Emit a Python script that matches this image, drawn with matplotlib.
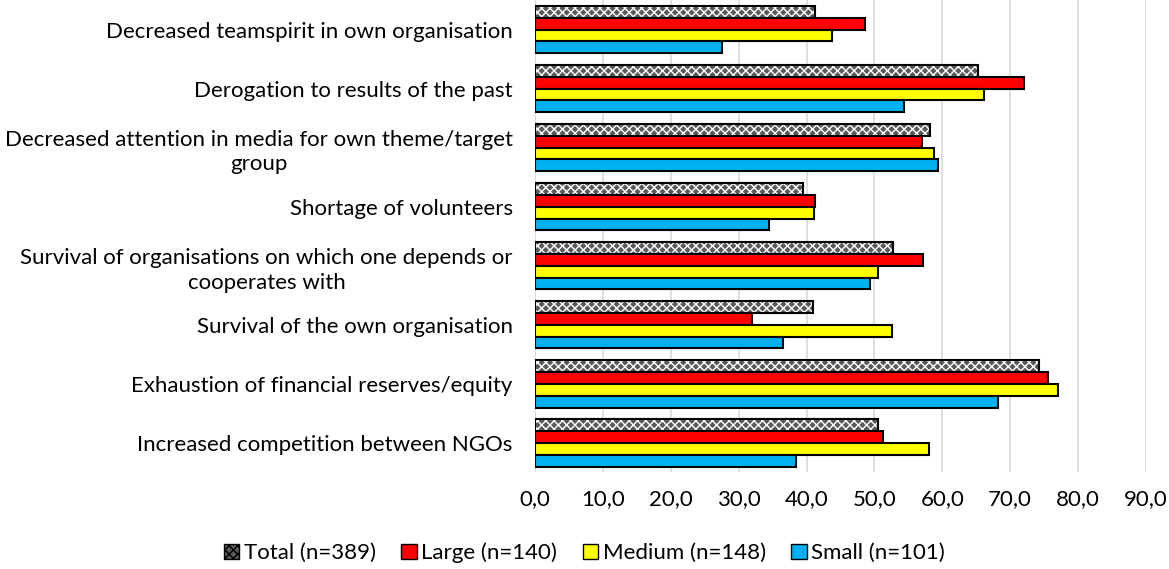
import numpy as np
import matplotlib.pyplot as plt
from matplotlib.patches import Patch

# Categorias (de arriba a abajo)
categorias = [
    "Decreased teamspirit in own organisation",
    "Derogation to results of the past",
    "Decreased attention in media for own theme/target\ngroup",
    "Shortage of volunteers",
    "Survival of organisations on which one depends or\ncooperates with",
    "Survival of the own organisation",
    "Exhaustion of financial reserves/equity",
    "Increased competition between NGOs",
]

total = [41.2, 65.2, 58.2, 39.5, 52.7, 41.0, 74.2, 50.6]
large = [48.6, 72.1, 57.0, 41.3, 57.2, 32.0, 75.6, 51.3]
medium = [43.8, 66.1, 58.8, 41.1, 50.6, 52.6, 77.0, 58.0]
small = [27.6, 54.3, 59.3, 34.5, 49.4, 36.5, 68.2, 38.5]

series_labels = ["Total (n=389)", "Large (n=140)", "Medium (n=148)", "Small (n=101)"]
x_ticks = np.arange(0, 100, 10)

plt.rcParams["font.family"] = ["Lato", "DejaVu Sans"]
plt.rcParams["hatch.linewidth"] = 1.0
fs = 16

fig = plt.figure(figsize=(11.69, 5.69), dpi=100)
ax = fig.add_axes([0.4577, 0.1696, 0.5225, 0.8304])

y = np.arange(len(categorias))
h = 0.2
offsets = [-1.5 * h, -0.5 * h, 0.5 * h, 1.5 * h]

# Total: relleno gris con trama blanca
ax.barh(y + offsets[0], total, height=h, color="#5a5a5a", edgecolor="white",
        hatch="xxxx", linewidth=0, zorder=2)
ax.barh(y + offsets[0], total, height=h, fill=False, edgecolor="black",
        linewidth=1.5, zorder=3)
ax.barh(y + offsets[1], large, height=h, color="#ff0000", edgecolor="black",
        linewidth=1.5, zorder=3)
ax.barh(y + offsets[2], medium, height=h, color="#ffff00", edgecolor="black",
        linewidth=1.5, zorder=3)
ax.barh(y + offsets[3], small, height=h, color="#00b0f0", edgecolor="black",
        linewidth=1.5, zorder=3)

ax.set_ylim(len(categorias) - 0.5, -0.5)
ax.set_xlim(0, 90)
ax.set_yticks(y)
ax.set_yticklabels(categorias, fontsize=fs, multialignment="center", linespacing=1.3)
ax.set_xticks(x_ticks)
ax.set_xticklabels([f"{v:.1f}".replace(".", ",") for v in x_ticks], fontsize=fs)
ax.tick_params(axis="y", length=0, pad=16)
ax.tick_params(axis="x", length=0, pad=12)
ax.grid(axis="x", color="#d9d9d9", linewidth=1.2, zorder=0)
for s in ax.spines.values():
    s.set_visible(False)
ax.axvline(0, color="#d9d9d9", linewidth=1.2, zorder=1)

handles = [
    Patch(facecolor="#5a5a5a", edgecolor="black", hatch="xxxx"),
    Patch(facecolor="#ff0000", edgecolor="black"),
    Patch(facecolor="#ffff00", edgecolor="black"),
    Patch(facecolor="#00b0f0", edgecolor="black"),
]
fig.legend(handles, series_labels, loc="lower center", bbox_to_anchor=(0.5, -0.025),
           ncol=4, frameon=False, fontsize=fs, handlelength=0.7,
           handleheight=0.7, handletextpad=0.2, columnspacing=1.15)

plt.savefig("out.png", dpi=100)
